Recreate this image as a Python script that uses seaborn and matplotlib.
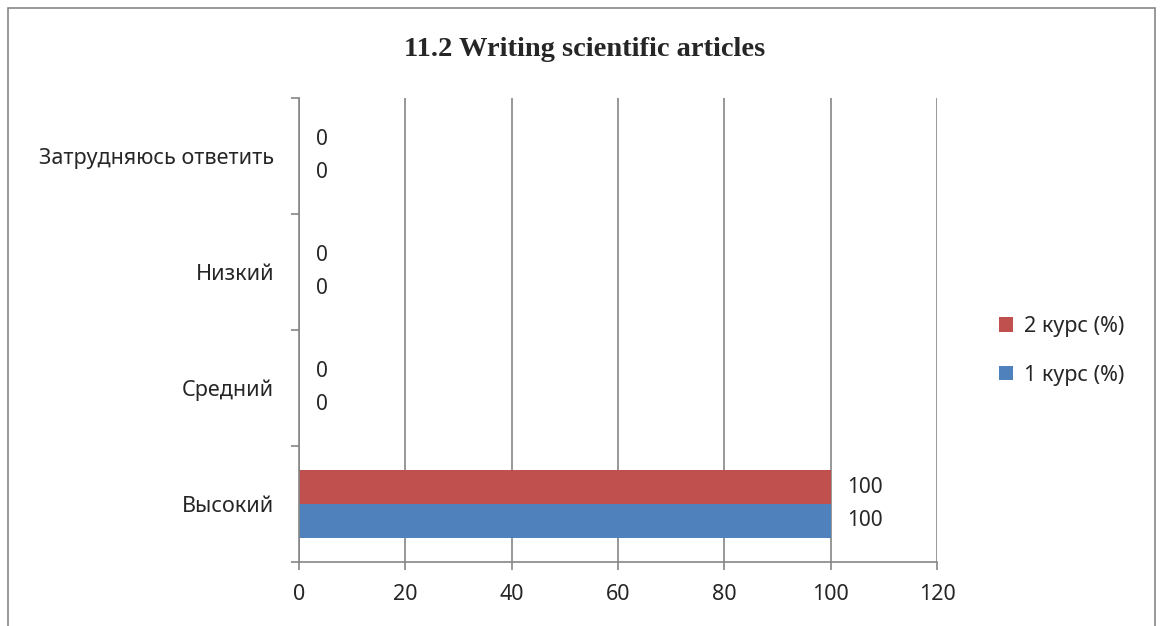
import matplotlib
matplotlib.use('Agg')
import matplotlib.pyplot as plt
import pandas as pd
import seaborn as sns
from matplotlib.patches import Rectangle

# Data
categories = ['Затрудняюсь ответить', 'Низкий', 'Средний', 'Высокий']
series_names = ['2 курс (%)', '1 курс (%)']
kurs2 = [0, 0, 0, 100]
kurs1 = [0, 0, 0, 100]
colors = ['#C0504D', '#4F81BD']
x_ticks = [0, 20, 40, 60, 80, 100, 120]

df = pd.DataFrame({
    'category': categories * 2,
    'series': [series_names[0]] * 4 + [series_names[1]] * 4,
    'value': kurs2 + kurs1,
})

sns.set_style('white')
plt.rcParams['font.family'] = ['Noto Sans', 'DejaVu Sans']

fig = plt.figure(figsize=(11.63, 6.26), dpi=100)
ax = fig.add_axes([299 / 1163, 64 / 626, 638 / 1163, 464 / 626])

sns.barplot(data=df, y='category', x='value', hue='series', order=categories,
            hue_order=series_names, palette=colors, orient='h', width=0.58,
            saturation=1, linewidth=0, ax=ax, legend=True)

for c in ax.containers:
    ax.bar_label(c, labels=[f'{int(v)}' for v in c.datavalues], padding=12, fontsize=15)

ax.set_xlim(0, 120)
ax.set_xticks(x_ticks)
ax.set_ylim(3.5, -0.5)
ax.set_xlabel('')
ax.set_ylabel('')

gray = '#868686'
ax.grid(axis='x', color=gray, linewidth=1.2)
ax.set_axisbelow(True)
for s in ['top', 'right']:
    ax.spines[s].set_visible(False)
for s in ['left', 'bottom']:
    ax.spines[s].set_color(gray)
    ax.spines[s].set_linewidth(1.2)

ax.set_yticks([-0.5, 0.5, 1.5, 2.5, 3.5], minor=True)
ax.tick_params(axis='y', which='major', length=0, pad=18, labelsize=15.5)
ax.tick_params(axis='y', which='minor', length=6, color=gray, width=1.2, left=True)
ax.tick_params(axis='x', length=6, color=gray, width=1.2, pad=10, labelsize=15.5, bottom=True)

handles, labels = ax.get_legend_handles_labels()
ax.legend(handles, labels, loc='center left', bbox_to_anchor=(1.067, 0.455), frameon=False,
          fontsize=15.5, handlelength=0.65, handleheight=0.65, labelspacing=1.3, handletextpad=0.5)

fig.text(585 / 1163, 1 - 50 / 626, '11.2 Writing scientific articles',
         family='Liberation Serif', weight='bold', fontsize=20.5, ha='center', va='center')

fig.patches.append(Rectangle((8 / 1163, -0.05), 1147 / 1163, 1.05 - 8 / 626,
                             transform=fig.transFigure, fill=False, edgecolor=gray, linewidth=1.2))

fig.savefig('out.png', dpi=100)
